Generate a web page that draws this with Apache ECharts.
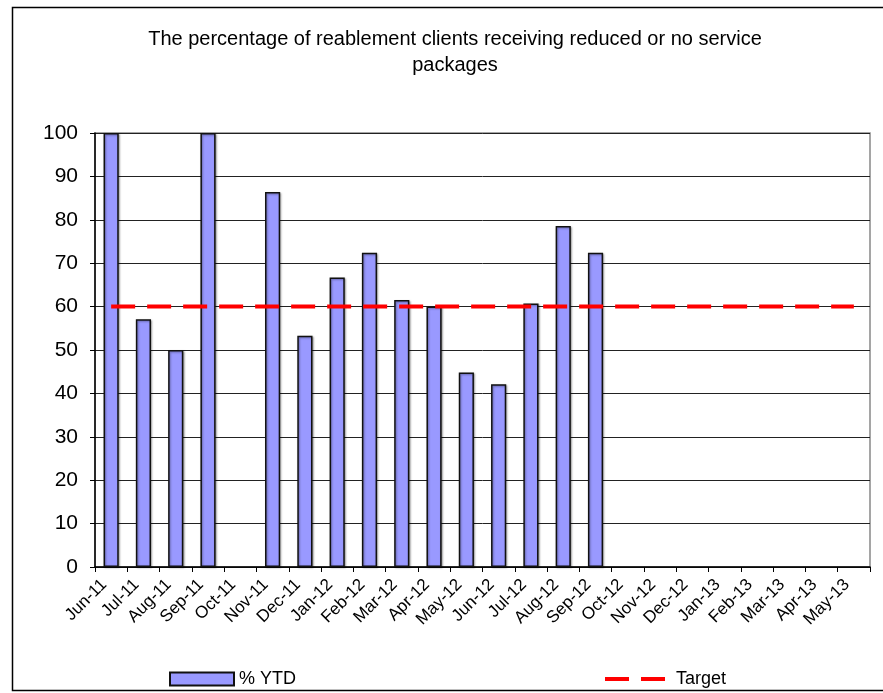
<!DOCTYPE html>
<html>
<head>
<meta charset="utf-8">
<script src="https://cdn.jsdelivr.net/npm/echarts@6/dist/echarts.min.js"></script>
<style>
  html, body { margin: 0; padding: 0; background: #fff; }
  #chart { width: 883px; height: 693px; }
</style>
</head>
<body>
<div id="chart"></div>
<script>
// Monthly reporting periods, June 2011 to May 2013
const months = ['Jun-11','Jul-11','Aug-11','Sep-11','Oct-11','Nov-11','Dec-11','Jan-12',
  'Feb-12','Mar-12','Apr-12','May-12','Jun-12','Jul-12','Aug-12','Sep-12',
  'Oct-12','Nov-12','Dec-12','Jan-13','Feb-13','Mar-13','Apr-13','May-13'];

// Year-to-date percentage (no return for Oct-11 and from Oct-12 onwards)
const ytdPercent = [100, 57.1, 50, 100, null, 86.4, 53.3, 66.7,
  72.4, 61.5, 60, 44.8, 42.1, 60.7, 78.6, 72.4,
  null, null, null, null, null, null, null, null];

// Target level for every month
const targetPercent = [60, 60, 60, 60, 60, 60, 60, 60, 60, 60, 60, 60,
  60, 60, 60, 60, 60, 60, 60, 60, 60, 60, 60, 60];

const yTicks = { min: 0, max: 100, interval: 10 };

const FONT = '"Liberation Sans", Arial, sans-serif';

const chart = echarts.init(document.getElementById('chart'), null, { renderer: 'canvas' });

chart.setOption({
  animation: false,
  backgroundColor: '#ffffff',
  title: {
    text: 'The percentage of reablement clients receiving reduced or no service\npackages',
    left: 450,
    textAlign: 'center',
    top: 21,
    textStyle: {
      fontFamily: FONT,
      fontSize: 20,
      fontWeight: 'normal',
      color: '#000',
      lineHeight: 26
    }
  },
  graphic: [{
    type: 'rect',
    shape: { x: 12.5, y: 7.5, width: 880, height: 683 },
    style: { fill: 'none', stroke: '#000', lineWidth: 1.5 },
    silent: true,
    z: -1
  }],
  legend: [{
    data: [{ name: '% YTD', icon: 'rect' }],
    left: 169,
    top: 670,
    padding: 0,
    itemWidth: 64,
    itemHeight: 13,
    itemGap: 8,
    textStyle: { fontFamily: FONT, fontSize: 18, color: '#000' }
  }, {
    data: [{ name: 'Target', icon: 'path://M0,0h24v4h-24zM36,0h24v4h-24z' }],
    left: 605,
    top: 670,
    padding: 0,
    itemWidth: 60,
    itemHeight: 4,
    itemGap: 11,
    textStyle: { fontFamily: FONT, fontSize: 18, color: '#000', padding: [0, 0, 0, 6] }
  }],
  grid: {
    left: 95,
    right: 13,
    top: 133,
    bottom: 126,
    show: true,
    borderColor: '#888',
    borderWidth: 1.5,
    containLabel: false
  },
  xAxis: {
    type: 'category',
    data: months,
    boundaryGap: true,
    axisLine: { show: true, lineStyle: { color: '#000', width: 1.5 } },
    axisTick: { show: true, interval: 0, length: 5, lineStyle: { color: '#000' } },
    axisLabel: {
      interval: 0,
      rotate: 45,
      margin: 8,
      padding: [0, 10, 0, 0],
      fontFamily: FONT,
      fontSize: 17,
      color: '#000'
    },
    splitLine: { show: false }
  },
  yAxis: {
    type: 'value',
    min: yTicks.min,
    max: yTicks.max,
    interval: yTicks.interval,
    axisLine: { show: true, lineStyle: { color: '#000', width: 1.5 } },
    axisTick: { show: true, length: 5, lineStyle: { color: '#000' } },
    axisLabel: {
      margin: 17,
      fontFamily: FONT,
      fontSize: 21,
      color: '#000'
    },
    splitLine: { show: true, lineStyle: { color: '#222', width: 1 } }
  },
  series: [{
    name: '% YTD',
    type: 'bar',
    data: ytdPercent,
    barWidth: '47%',
    itemStyle: {
      color: '#9999FF',
      borderColor: '#111',
      borderWidth: 1.5,
      shadowColor: 'rgba(0,0,0,0.35)',
      shadowBlur: 2,
      shadowOffsetX: 1,
      shadowOffsetY: 1
    },
    z: 2
  }, {
    name: 'Target',
    type: 'line',
    data: targetPercent,
    symbol: 'none',
    lineStyle: {
      color: '#FF0000',
      width: 4,
      type: [24, 12],
      cap: 'butt'
    },
    itemStyle: { color: '#FF0000' },
    z: 3
  }]
});
</script>
</body>
</html>
